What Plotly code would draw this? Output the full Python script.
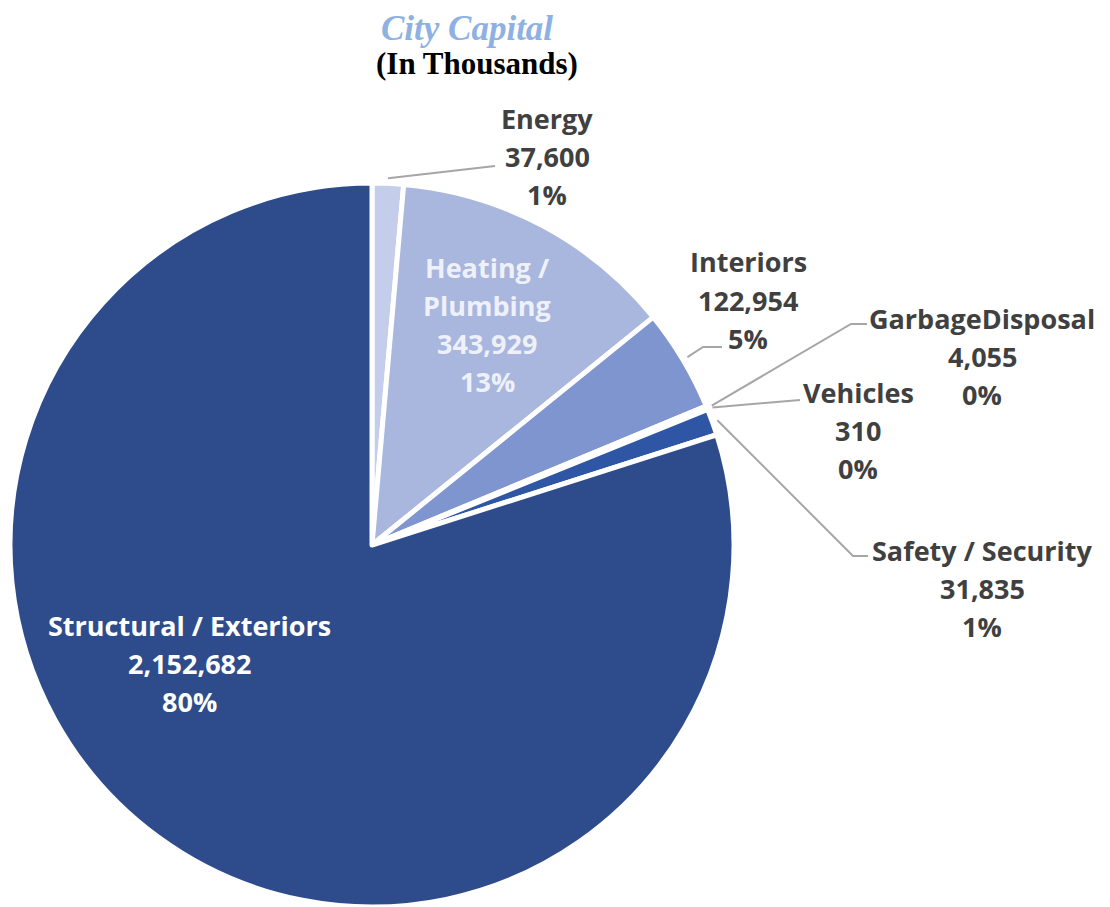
import math
import plotly.graph_objects as go

categories = ["Energy", "Heating / Plumbing", "Interiors", "GarbageDisposal",
              "Vehicles", "Safety / Security", "Structural / Exteriors"]
values = [37600, 343929, 122954, 4055, 310, 31835, 2152682]
colors = ["#C4CDE9", "#A9B6DD", "#7F95CF", "#3F62B0", "#3A5CA8", "#2F56A4", "#2E4C8B"]

OFF = 8                      # page body margin
W, H = 1110 - OFF, 907 - OFF
CX, CY, R = 372, 545, 360    # pie centre / radius in screen pixels


def px(x, y):
    return (x - OFF) / W, 1 - (y - OFF) / H


total = sum(values)
pcts = [v / total * 100 for v in values]

RD = R + 2
fig = go.Figure()
fig.add_trace(go.Pie(
    labels=categories, values=values, sort=False, direction="clockwise", rotation=0,
    marker=dict(colors=colors, line=dict(color="white", width=5)),
    textinfo="none", hoverinfo="label+value+percent", showlegend=False,
    domain=dict(x=[max(0, (CX - RD - OFF) / W), (CX + RD - OFF) / W],
                y=[max(0, 1 - (CY + RD - OFF) / H), 1 - (CY - RD - OFF) / H]),
))


def fmt(i):
    return f"{values[i]:,}", f"{pcts[i]:.0f}%"


mids = []
cum = 0
for v in values:
    mids.append((cum + v / 2) / total * 360)
    cum += v


def edge(i, k=1.02):
    a = math.radians(mids[i])
    return CX + R * k * math.sin(a), CY - R * k * math.cos(a)


FAM = "'Open Sans', Lato, sans-serif"
LABEL_FONT = dict(family=FAM, size=27, color="#404040")
WHITE_FONT = dict(family=FAM, size=27, color="#FFFFFF")
LIGHT_FONT = dict(family=FAM, size=27, color="#EEF1FA")

label_spec = {
    0: dict(lines=["Energy"], x=547, y=118, font=LABEL_FONT, path=[(495, 166)]),
    1: dict(lines=["Heating /", "Plumbing"], x=487, y=267, font=LIGHT_FONT, path=None),
    2: dict(lines=["Interiors"], x=748, y=262, font=LABEL_FONT, path=[(703, 347), (722, 347)]),
    3: dict(lines=["GarbageDisposal"], x=982, y=318, font=LABEL_FONT, path=[(851, 324), (867, 324)]),
    4: dict(lines=["Vehicles"], x=858, y=392, font=LABEL_FONT, path=[(800, 400)]),
    5: dict(lines=["Safety / Security"], x=982, y=550, font=LABEL_FONT, path=[(853, 556), (868, 556)]),
    6: dict(lines=["Structural / Exteriors"], x=189, y=625, font=WHITE_FONT, path=None),
}

LINE_H = 38.3
for i, spec in label_spec.items():
    v, p = fmt(i)
    lines = spec["lines"] + [v, p]
    for j, t in enumerate(lines):
        x, y = px(spec["x"], spec["y"] + j * LINE_H)
        fig.add_annotation(x=x, y=y, xref="paper", yref="paper", text=f"<b>{t}</b>",
                           showarrow=False, font=spec["font"], xanchor="center", yanchor="middle")
    if spec["path"]:
        pts = [edge(i)] + spec["path"]
        d = "M " + " L ".join(f"{px(a, b)[0]:.5f},{px(a, b)[1]:.5f}" for a, b in pts)
        fig.add_shape(type="path", path=d, xref="paper", yref="paper",
                      line=dict(color="#A6A6A6", width=2))

SERIF = "'Liberation Serif', 'Times New Roman', serif"
tx, _ = px(467, 22)
fig.add_annotation(x=tx, y=1, xref="paper", yref="paper", showarrow=False,
                   text="<b><i>City Capital</i></b>", xanchor="center", yanchor="top",
                   borderpad=0, font=dict(family=SERIF, size=35, color="#8EB1E3"))
tx, ty = px(477, 63)
fig.add_annotation(x=tx, y=ty, xref="paper", yref="paper", showarrow=False,
                   text="<b>(In Thousands)</b>", xanchor="center", yanchor="middle",
                   font=dict(family=SERIF, size=31, color="#000000"))

fig.update_layout(width=W, height=H, margin=dict(l=0, r=0, t=0, b=0),
                  paper_bgcolor="white", plot_bgcolor="white")
fig.write_html("out.html")
